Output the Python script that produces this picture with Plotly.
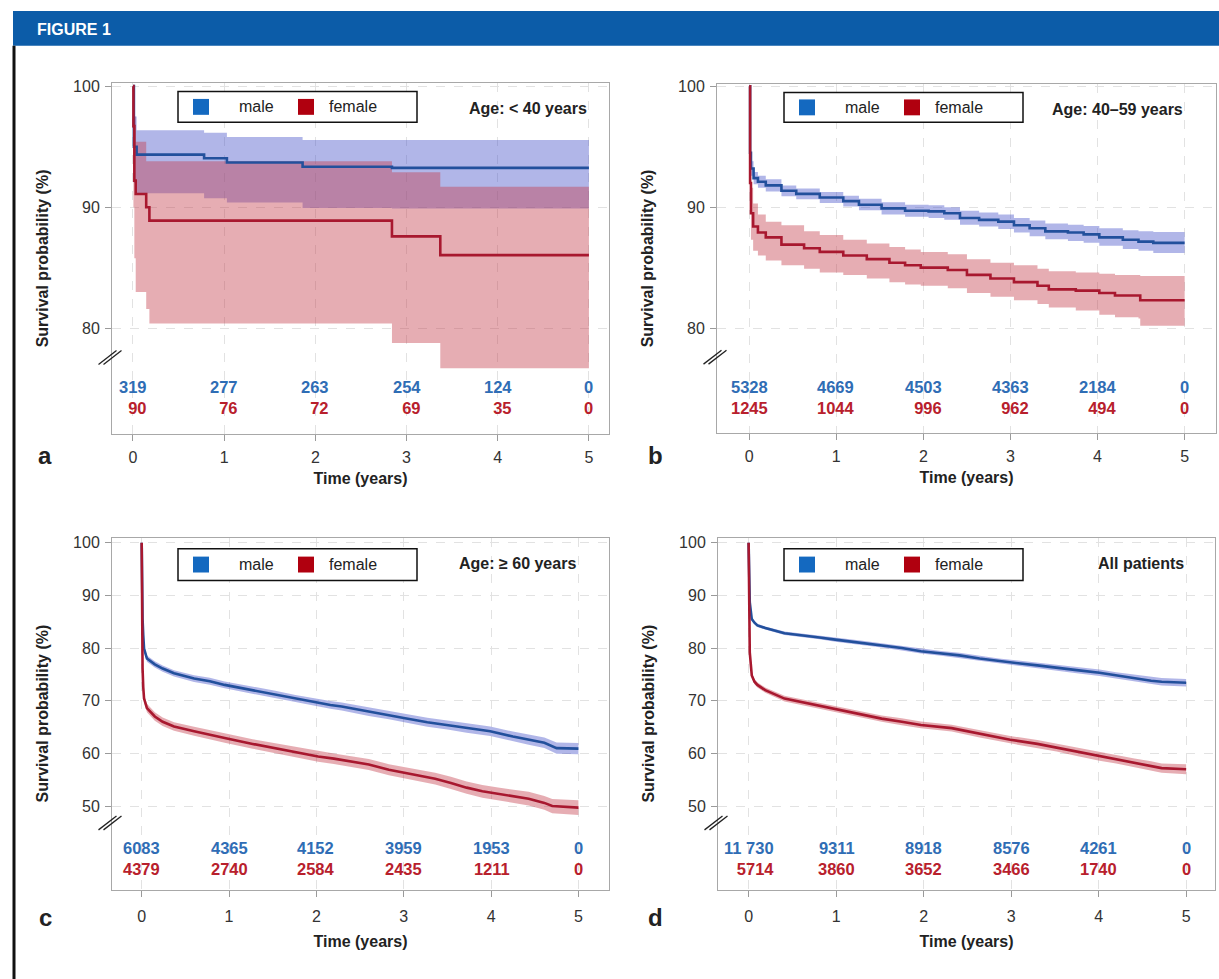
import plotly.graph_objects as go

# Reference canvas size (figure is pinned to the top-left corner of the page)
W, H = 1219, 979
FONT = "Liberation Sans, Arial, Helvetica, sans-serif"

# ---------------- data ----------------
years = [0, 1, 2, 3, 4, 5]

# Panel a: age < 40
a_t_m = [0, 0.01, 0.04, 0.78, 1.03, 1.86, 2.84, 5.0]
a_s_m = [100, 95.0, 94.35, 94.05, 93.7, 93.35, 93.25, 93.25]
a_hi_m = [100, 97.5, 96.35, 96.15, 95.8, 95.55, 95.55, 95.55]
a_lo_m = [100, 92.0, 91.15, 90.75, 90.4, 89.95, 89.9, 89.9]
a_t_f = [0, 0.005, 0.015, 0.03, 0.145, 0.18, 2.84, 3.37, 5.0]
a_s_f = [100, 96.7, 92.2, 91.1, 90.0, 88.9, 87.6, 86.05, 86.05]
a_hi_f = [100, 99.5, 97.5, 95.4, 93.8, 93.8, 92.9, 91.7, 91.7]
a_lo_f = [100, 90.0, 85.8, 83.0, 81.6, 80.4, 78.8, 76.7, 76.7]
a_risk_m = ["319", "277", "263", "254", "124", "0"]
a_risk_f = ["90", "76", "72", "69", "35", "0"]

# Panel b: age 40-59
b_t_m = [0, 0.01, 0.02, 0.05, 0.1, 0.19, 0.37, 0.54, 0.81, 1.08, 1.26, 1.52, 1.79, 2.06,
         2.24, 2.42, 2.64, 2.86, 3.04, 3.22, 3.4, 3.66, 3.84, 4.02, 4.29, 4.47, 4.64, 5.0]
b_s_m = [100, 94.5, 93.2, 92.4, 92.1, 91.8, 91.35, 91.1, 90.8, 90.5, 90.2, 89.9, 89.7, 89.65,
         89.5, 89.1, 88.95, 88.8, 88.5, 88.25, 88.0, 87.9, 87.75, 87.5, 87.3, 87.15, 87.05, 87.05]
b_hi_m = [100, 95.2, 93.8, 92.9, 92.6, 92.3, 91.8, 91.55, 91.25, 90.95, 90.7, 90.4, 90.2, 90.15,
          90.0, 89.7, 89.55, 89.4, 89.1, 88.9, 88.65, 88.55, 88.45, 88.25, 88.1, 88.0, 87.95, 87.95]
b_lo_m = [100, 93.8, 92.6, 91.9, 91.6, 91.3, 90.9, 90.65, 90.35, 90.05, 89.75, 89.4, 89.2, 89.1,
          88.95, 88.55, 88.4, 88.2, 87.9, 87.6, 87.35, 87.2, 87.05, 86.8, 86.55, 86.4, 86.2, 86.2]
b_t_f = [0, 0.01, 0.02, 0.045, 0.1, 0.19, 0.37, 0.63, 0.81, 1.08, 1.35, 1.61, 1.79, 1.97,
         2.28, 2.5, 2.77, 3.04, 3.31, 3.44, 3.75, 4.02, 4.2, 4.47, 4.49, 5.0]
b_s_f = [100, 92.0, 89.5, 88.4, 87.9, 87.5, 86.9, 86.6, 86.3, 86.0, 85.7, 85.4, 85.2, 85.0,
         84.8, 84.4, 84.1, 83.8, 83.5, 83.2, 83.1, 82.9, 82.7, 82.7, 82.3, 82.3]
b_hi_f = [100, 94.5, 91.6, 90.3, 89.4, 88.8, 88.5, 88.0, 87.7, 87.3, 87.0, 86.7, 86.5, 86.3,
          86.1, 85.7, 85.4, 85.2, 84.9, 84.7, 84.6, 84.5, 84.4, 84.4, 84.3, 84.3]
b_lo_f = [100, 89.5, 87.3, 86.4, 86.0, 85.6, 85.2, 84.9, 84.6, 84.4, 84.1, 83.8, 83.6, 83.5,
          83.3, 82.9, 82.6, 82.3, 82.0, 81.7, 81.45, 81.1, 80.9, 80.8, 80.2, 80.1]
b_risk_m = ["5328", "4669", "4503", "4363", "2184", "0"]
b_risk_f = ["1245", "1044", "996", "962", "494", "0"]

# Panel c: age >= 60
c_t_m = [0, 0.005, 0.01, 0.018, 0.027, 0.06, 0.1, 0.15, 0.24, 0.37, 0.6, 0.78, 0.95, 1.27, 1.53,
         1.76, 1.94, 2.16, 2.29, 2.6, 2.83, 3.0, 3.27, 3.5, 3.72, 3.99, 4.25, 4.43, 4.61, 4.75, 5.0]
c_s_m = [100, 90.0, 85.5, 82.4, 79.9, 78.0, 77.5, 76.9, 76.1, 75.2, 74.2, 73.7, 73.0, 72.0, 71.2,
         70.4, 69.8, 69.2, 68.9, 67.9, 67.3, 66.7, 65.9, 65.4, 64.8, 64.2, 63.2, 62.6, 62.0, 61.0, 60.9]
c_hi_m = [100, 90.6, 86.1, 83.0, 80.5, 78.6, 78.1, 77.5, 76.7, 75.8, 74.85, 74.35, 73.65, 72.7, 71.9,
          71.1, 70.55, 69.95, 69.65, 68.7, 68.1, 67.5, 66.75, 66.25, 65.7, 65.1, 64.15, 63.55, 63.0, 62.05, 61.95]
c_lo_m = [100, 89.4, 84.9, 81.8, 79.3, 77.4, 76.9, 76.3, 75.5, 74.6, 73.55, 73.05, 72.35, 71.3, 70.5,
          69.7, 69.05, 68.45, 68.15, 67.1, 66.5, 65.9, 65.05, 64.55, 63.9, 63.3, 62.25, 61.65, 61.0, 59.95, 59.85]
c_t_f = [0, 0.005, 0.01, 0.018, 0.027, 0.06, 0.1, 0.15, 0.24, 0.37, 0.6, 0.78, 0.95, 1.27, 1.49,
         1.71, 2.02, 2.2, 2.38, 2.6, 2.83, 3.1, 3.36, 3.54, 3.72, 3.9, 4.08, 4.43, 4.61, 4.7, 5.0]
c_s_f = [100, 84.0, 76.1, 72.5, 70.4, 68.6, 67.8, 67.0, 66.0, 65.1, 64.2, 63.5, 62.9, 61.8, 61.1,
         60.4, 59.4, 59.0, 58.5, 57.9, 56.9, 56.0, 55.2, 54.4, 53.5, 52.8, 52.3, 51.4, 50.6, 50.0, 49.7]
c_hi_f = [100, 84.8, 76.9, 73.3, 71.2, 69.4, 68.6, 67.8, 66.8, 65.9, 65.05, 64.35, 63.8, 62.7, 62.05,
          61.35, 60.4, 60.0, 59.5, 58.95, 57.95, 57.1, 56.3, 55.55, 54.65, 54.0, 53.5, 52.7, 51.9, 51.35, 51.1]
c_lo_f = [100, 83.2, 75.3, 71.7, 69.6, 67.8, 67.0, 66.2, 65.2, 64.3, 63.35, 62.65, 62.0, 60.9, 60.15,
          59.45, 58.4, 58.0, 57.5, 56.85, 55.85, 54.9, 54.1, 53.25, 52.35, 51.6, 51.1, 50.1, 49.3, 48.65, 48.3]
c_risk_m = ["6083", "4365", "4152", "3959", "1953", "0"]
c_risk_f = ["4379", "2740", "2584", "2435", "1211", "0"]

# Panel d: all patients
d_t_m = [0, 0.005, 0.013, 0.036, 0.067, 0.1, 0.19, 0.41, 0.64, 0.81, 0.99, 1.3, 1.52, 1.75, 1.97,
         2.2, 2.41, 2.64, 2.86, 3.08, 3.3, 3.52, 3.75, 4.01, 4.2, 4.41, 4.6, 4.72, 5.0]
d_s_m = [100, 93.0, 88.7, 85.5, 84.8, 84.3, 83.8, 82.8, 82.4, 82.0, 81.6, 81.0, 80.5, 80.0, 79.4,
         79.0, 78.6, 78.0, 77.5, 77.1, 76.7, 76.2, 75.8, 75.3, 74.8, 74.3, 73.8, 73.6, 73.4]
d_hi_m = [100, 93.3, 89.0, 85.8, 85.1, 84.6, 84.1, 83.15, 82.75, 82.35, 82.0, 81.4, 80.9, 80.45, 79.85,
          79.45, 79.1, 78.5, 78.0, 77.65, 77.25, 76.75, 76.4, 75.9, 75.4, 74.95, 74.45, 74.3, 74.1]
d_lo_m = [100, 92.7, 88.4, 85.2, 84.5, 84.0, 83.5, 82.45, 82.05, 81.65, 81.2, 80.6, 80.1, 79.55, 78.95,
          78.55, 78.1, 77.5, 77.0, 76.55, 76.15, 75.65, 75.2, 74.7, 74.2, 73.65, 73.15, 72.9, 72.7]
d_t_f = [0, 0.004, 0.013, 0.036, 0.067, 0.1, 0.19, 0.41, 0.64, 0.81, 0.99, 1.3, 1.52, 1.75, 1.97,
         2.32, 2.64, 2.99, 3.3, 3.52, 3.75, 4.01, 4.2, 4.41, 4.6, 4.72, 5.0]
d_s_f = [100, 83.6, 79.2, 74.8, 73.6, 73.0, 72.0, 70.4, 69.6, 69.1, 68.4, 67.3, 66.6, 66.0, 65.4,
         64.8, 63.7, 62.6, 61.8, 61.1, 60.3, 59.4, 58.9, 58.2, 57.6, 57.2, 57.0]
d_hi_f = [100, 84.1, 79.7, 75.3, 74.1, 73.5, 72.5, 70.95, 70.15, 69.65, 69.0, 67.9, 67.2, 66.65, 66.05,
          65.45, 64.4, 63.3, 62.55, 61.85, 61.1, 60.2, 59.7, 59.05, 58.5, 58.1, 57.95]
d_lo_f = [100, 83.1, 78.7, 74.3, 73.1, 72.5, 71.5, 69.85, 69.05, 68.55, 67.8, 66.7, 66.0, 65.35, 64.75,
          64.15, 63.0, 61.9, 61.05, 60.35, 59.5, 58.6, 58.1, 57.35, 56.7, 56.3, 56.05]
d_risk_m = ["11 730", "9311", "8918", "8576", "4261", "0"]
d_risk_f = ["5714", "3860", "3652", "3466", "1740", "0"]

titles = ["Age: < 40 years", "Age: 40\u201359 years", "Age: \u2265 60 years", "All patients"]
letters = ["a", "b", "c", "d"]
groups = ["male", "female"]

# ---------------- styling ----------------
LINE_M, LINE_F = "#22509c", "#a8182f"
BAND_M, BAND_F = "rgba(70,80,200,0.42)", "rgba(195,60,75,0.42)"
TXT_M, TXT_F = "#2f6db5", "#b8202c"
SQ_M, SQ_F = "#1469c0", "#b0000f"
HEADER = "#0c5ca8"


def fx(x):
    return x / W


def fy(y):
    return 1 - y / H


panels = [
    dict(px=(112, 609), py=(77, 431), xr=(-0.23, 5.22), yr=(71.25, 100.3), yt=[80, 90, 100],
         t_m=a_t_m, s_m=a_s_m, hi_m=a_hi_m, lo_m=a_lo_m, t_f=a_t_f, s_f=a_s_f, hi_f=a_hi_f, lo_f=a_lo_f,
         rm=a_risk_m, rf=a_risk_f, risk_y=74.3, brk=77.6, shape="hv", xstand=8,
         leg=(178, 86, 117), letter_xy=(45, 452)),
    dict(px=(717, 1216), py=(78, 430), xr=(-0.37, 5.36), yr=(71.3, 100.22), yt=[80, 90, 100],
         t_m=b_t_m, s_m=b_s_m, hi_m=b_hi_m, lo_m=b_lo_m, t_f=b_t_f, s_f=b_s_f, hi_f=b_hi_f, lo_f=b_lo_f,
         rm=b_risk_m, rf=b_risk_f, risk_y=74.3, brk=77.6, shape="hv", xstand=8,
         leg=(784, 87, 117), letter_xy=(655, 452)),
    dict(px=(112, 609), py=(535, 889), xr=(-0.34, 5.35), yr=(34.15, 100.94), yt=[50, 60, 70, 80, 90, 100],
         t_m=c_t_m, s_m=c_s_m, hi_m=c_hi_m, lo_m=c_lo_m, t_f=c_t_f, s_f=c_s_f, hi_f=c_hi_f, lo_f=c_lo_f,
         rm=c_risk_m, rf=c_risk_f, risk_y=40.1, brk=46.8, shape="linear", xstand=12,
         leg=(178, 546, 578), letter_xy=(45, 917)),
    dict(px=(718, 1215), py=(535, 889), xr=(-0.35, 5.33), yr=(34.15, 100.94), yt=[50, 60, 70, 80, 90, 100],
         t_m=d_t_m, s_m=d_s_m, hi_m=d_hi_m, lo_m=d_lo_m, t_f=d_t_f, s_f=d_s_f, hi_f=d_hi_f, lo_f=d_lo_f,
         rm=d_risk_m, rf=d_risk_f, risk_y=40.1, brk=46.8, shape="linear", xstand=12,
         leg=(784, 546, 578), letter_xy=(655, 917)),
]

fig = go.Figure()
shapes = []
annotations = []

# header bar and left rule
shapes.append(dict(type="rect", xref="paper", yref="paper", x0=fx(13), x1=1.0, y0=fy(40), y1=fy(5),
                   fillcolor=HEADER, line=dict(width=0), layer="below"))
shapes.append(dict(type="line", xref="paper", yref="paper", x0=fx(14), x1=fx(14), y0=0, y1=fy(40),
                   line=dict(color="#111", width=3)))
annotations.append(dict(text="<b>FIGURE 1</b>", xref="paper", yref="paper", x=fx(35), y=fy(24),
                        xanchor="left", yanchor="middle", showarrow=False,
                        font=dict(family=FONT, size=16, color="white")))

for i, p in enumerate(panels):
    k = "" if i == 0 else str(i + 1)
    xa, ya = "x" + k, "y" + k
    # confidence bands
    fig.add_trace(go.Scatter(x=p["t_m"], y=p["hi_m"], xaxis=xa, yaxis=ya, mode="lines",
                             line=dict(width=0, shape=p["shape"]), hoverinfo="skip", showlegend=False))
    fig.add_trace(go.Scatter(x=p["t_m"], y=p["lo_m"], xaxis=xa, yaxis=ya, mode="lines", fill="tonexty",
                             fillcolor=BAND_M, line=dict(width=0, shape=p["shape"]), hoverinfo="skip",
                             showlegend=False))
    fig.add_trace(go.Scatter(x=p["t_f"], y=p["hi_f"], xaxis=xa, yaxis=ya, mode="lines",
                             line=dict(width=0, shape=p["shape"]), hoverinfo="skip", showlegend=False))
    fig.add_trace(go.Scatter(x=p["t_f"], y=p["lo_f"], xaxis=xa, yaxis=ya, mode="lines", fill="tonexty",
                             fillcolor=BAND_F, line=dict(width=0, shape=p["shape"]), hoverinfo="skip",
                             showlegend=False))
    # survival lines
    fig.add_trace(go.Scatter(x=p["t_m"], y=p["s_m"], xaxis=xa, yaxis=ya, mode="lines", name=groups[0],
                             line=dict(color=LINE_M, width=2.6, shape=p["shape"]), showlegend=False))
    fig.add_trace(go.Scatter(x=p["t_f"], y=p["s_f"], xaxis=xa, yaxis=ya, mode="lines", name=groups[1],
                             line=dict(color=LINE_F, width=2.6, shape=p["shape"]), showlegend=False))

    dom_x = [fx(p["px"][0]), fx(p["px"][1])]
    dom_y = [fy(p["py"][1]), fy(p["py"][0])]
    axis_common = dict(showline=True, mirror=True, linecolor="#a8a8a8", linewidth=1,
                       showgrid=True, gridcolor="#e2e2e2", griddash="dash", gridwidth=1,
                       zeroline=False, ticks="outside", ticklen=6, tickcolor="#9a9a9a",
                       tickfont=dict(family=FONT, size=16, color="#333"))
    fig.update_layout(**{
        "xaxis" + k: dict(domain=dom_x, range=list(p["xr"]), tickvals=years, anchor=ya,
                          ticklabelstandoff=p["xstand"] - 6,
                          title=dict(text="<b>Time (years)</b>", standoff=p["xstand"],
                                     font=dict(family=FONT, size=16, color="#222")),
                          **axis_common),
        "yaxis" + k: dict(domain=dom_y, range=list(p["yr"]), tickvals=p["yt"], anchor=xa,
                          ticklabelstandoff=2,
                          title=dict(text="<b>Survival probability (%)</b>", standoff=20,
                                     font=dict(family=FONT, size=16, color="#222")),
                          **axis_common),
    })

    def ypx(v, p=p):
        y0, y1 = p["yr"]
        return p["py"][1] - (v - y0) / (y1 - y0) * (p["py"][1] - p["py"][0])

    # numbers at risk (male above, female below, right-aligned pair centred on each tick)
    for j, yr in enumerate(years):
        annotations.append(dict(
            text="<b><span style='color:%s'>%s</span><br><span style='color:%s'>%s</span></b>"
                 % (TXT_M, p["rm"][j], TXT_F, p["rf"][j]),
            x=yr, y=p["risk_y"], xref=xa, yref=ya, xanchor="center", yanchor="middle",
            align="right", showarrow=False, font=dict(family=FONT, size=16.5)))

    # panel title
    annotations.append(dict(text="<b>%s</b>" % titles[i], x=5, xref=xa, xanchor="right",
                            y=fy(p["py"][0] + 26), yref="paper", yanchor="middle", showarrow=False,
                            font=dict(family=FONT, size=16, color="#222")))
    # panel letter
    annotations.append(dict(text="<b>%s</b>" % letters[i], x=fx(p["letter_xy"][0]),
                            y=fy(p["letter_xy"][1]), xref="paper", yref="paper", xanchor="center",
                            yanchor="middle", showarrow=False, font=dict(family=FONT, size=24, color="#222")))

    # axis break mark
    by = ypx(p["brk"])
    bx = p["px"][0] - 2
    for off in (-2.5, 2.5):
        shapes.append(dict(type="line", xref="paper", yref="paper",
                           x0=fx(bx + off - 9), y0=fy(by + 7), x1=fx(bx + off + 9), y1=fy(by - 7),
                           line=dict(color="#222", width=1.3)))

    # legend box
    lx, lt, lb = p["leg"]
    mid = (lt + lb) / 2
    shapes.append(dict(type="rect", xref="paper", yref="paper", x0=fx(lx), x1=fx(lx + 239),
                       y0=fy(lb), y1=fy(lt), line=dict(color="#111", width=1.5), fillcolor="white"))
    for cx, col in ((lx + 23, SQ_M), (lx + 128, SQ_F)):
        shapes.append(dict(type="rect", xref="paper", yref="paper", x0=fx(cx - 8), x1=fx(cx + 8),
                           y0=fy(mid + 8), y1=fy(mid - 8), line=dict(width=0), fillcolor=col))
    for tx, name in ((lx + 59, groups[0]), (lx + 149, groups[1])):
        annotations.append(dict(text=name, x=fx(tx), y=fy(mid), xref="paper", yref="paper",
                                xanchor="left", yanchor="middle", showarrow=False,
                                font=dict(family=FONT, size=16, color="#222")))

fig.update_layout(width=W, height=H, margin=dict(l=0, r=0, t=0, b=0),
                  paper_bgcolor="white", plot_bgcolor="white", showlegend=False,
                  shapes=shapes, annotations=annotations)

# pin the figure to the page's top-left corner (removes the default body margin)
PIN = ("document.documentElement.style.margin='0';document.body.style.margin='0';"
       "document.body.style.overflow='hidden';var gd=document.getElementById('{plot_id}');"
       "gd.style.position='fixed';gd.style.left='0px';gd.style.top='0px';")

fig.write_html("out.html", post_script=PIN, config={"displayModeBar": False})
